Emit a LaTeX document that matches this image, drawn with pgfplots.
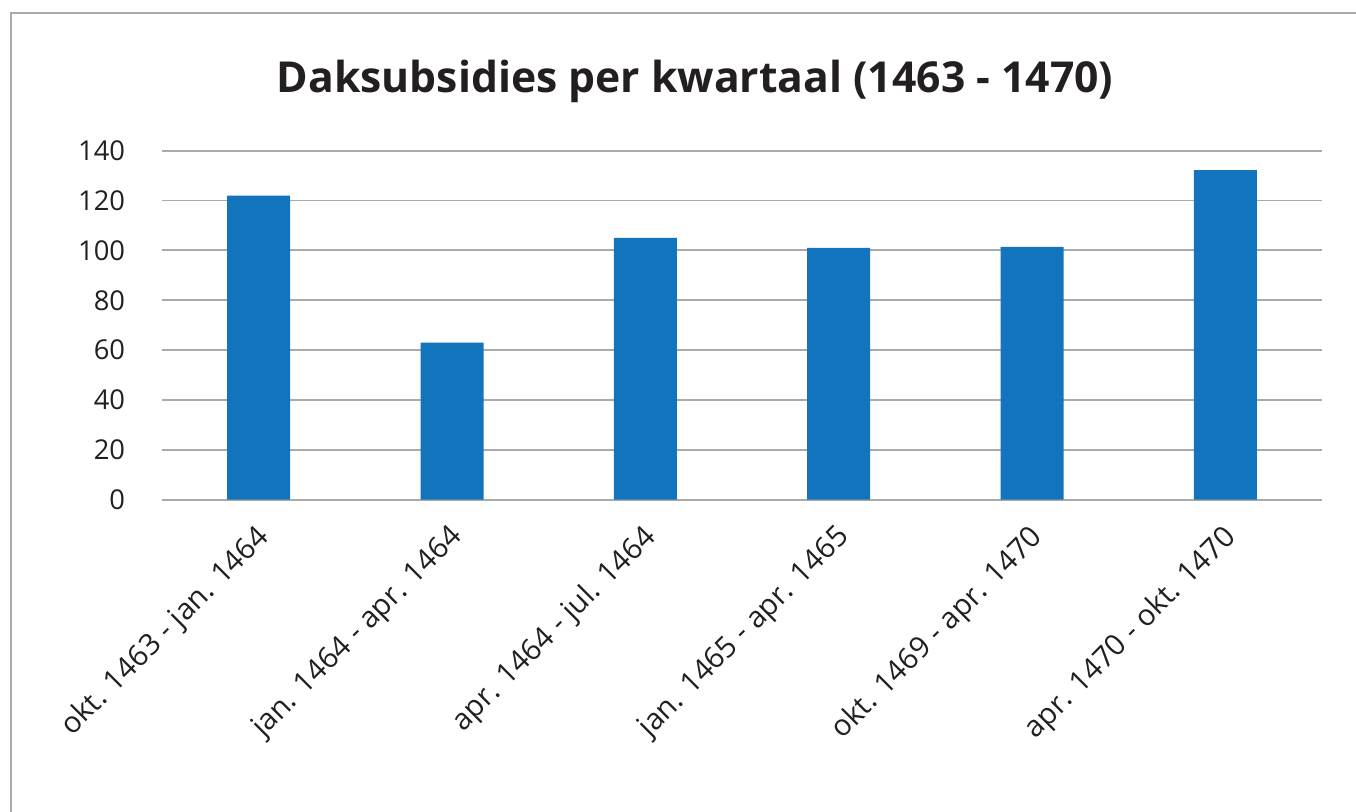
\documentclass[border=0pt]{standalone}
\usepackage{fontspec}
\setmainfont{Open Sans}
\usepackage{pgfplots}
\pgfplotsset{compat=1.18}
\definecolor{barblue}{RGB}{17,116,188}
\definecolor{gridgray}{RGB}{170,170,170}
\definecolor{framegray}{RGB}{170,170,170}
\definecolor{txt}{RGB}{35,31,32}
\begin{document}
\begin{tikzpicture}[x=0.75pt,y=0.75pt]
\useasboundingbox (0,0) rectangle (1356,811);
\draw[framegray, line width=1.2pt] (11,-20) -- (11,798) -- (1380,798);
\node[txt, font=\fontsize{32}{38}\selectfont\bfseries, anchor=base] at (695,718) {Daksubsidies per kwartaal (1463 - 1470)};
\begin{axis}[
  at={(121.5pt,233.475pt)}, anchor=south west,
  scale only axis,
  width=870pt, height=261.75pt,
  xmin=-0.5, xmax=5.5, ymin=0, ymax=140,
  ytick={0,20,...,140},
  xtick={0,...,5},
  xticklabels={okt. 1463 - jan. 1464, jan. 1464 - apr. 1464, apr. 1464 - jul. 1464, jan. 1465 - apr. 1465, okt. 1469 - apr. 1470, apr. 1470 - okt. 1470},
  axis line style={draw=none},
  major tick length=0pt,
  ymajorgrids,
  grid style={gridgray, line width=1.4pt},
  /pgf/number format/assume math mode=true,
  yticklabel style={font=\fontsize{20.5}{24}\selectfont, text=txt, anchor=east, inner sep=0pt, xshift=-27.5pt},
  xticklabel style={font=\fontsize{22}{26}\selectfont, text=txt, inner sep=0pt, xshift=-3pt, yshift=-17pt, rotate=45, anchor=north east},
  ybar, bar width=47.25pt,
]
\addplot[fill=barblue, draw=none] coordinates {(0,122) (1,63) (2,105) (3,101) (4,101.4) (5,132.2)};
\end{axis}
\end{tikzpicture}
\end{document}
